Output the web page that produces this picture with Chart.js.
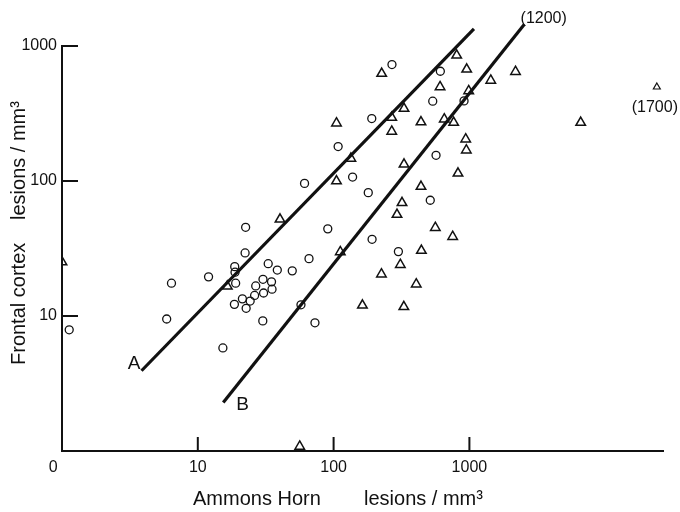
<!DOCTYPE html>
<html>
<head>
<meta charset="utf-8">
<script src="https://cdn.jsdelivr.net/npm/chart.js@4.4.1/dist/chart.umd.min.js"></script>
<style>
  html, body { margin: 0; padding: 0; background: #fff; }
</style>
</head>
<body>
<canvas id="graphCanvas" width="680" height="512"></canvas>
<script>
// open circles
const circleX = [1.13, 5.9, 6.4, 12.0, 15.3, 18.7, 18.8, 19.0, 18.6, 21.3, 22.5, 22.3, 22.7, 24.3, 26.2, 26.7, 30.1, 30.2, 30.5, 33.0, 34.9,
    35.2, 38.5, 49.6, 57.5, 61.1, 65.9, 72.9, 90.6, 108, 138, 180, 191, 192, 269, 300, 515, 537, 568, 611, 913];
const circleY = [7.9, 9.5, 17.5, 19.5, 5.8, 23.2, 21.1, 17.5, 12.2, 13.4, 45.4, 29.3, 11.4, 12.9, 14.2, 16.7, 9.2, 18.7, 14.8, 24.4, 17.9,
    15.8, 21.9, 21.6, 12.1, 96, 26.6, 8.9, 44.2, 180, 107, 82, 290, 37, 729, 30, 72, 390, 155, 650, 392];

// open triangles
const triX = [1, 16.5, 40.3, 56.3, 105, 105, 112, 134, 163, 226, 225, 268, 268, 293, 310, 319, 330, 330, 329, 406, 440,
    440, 443, 561, 608, 653, 753, 766, 806, 824, 939, 949, 955, 988, 1437, 2185, 6600];
const triY = [25.1, 16.6, 52, 1.08, 268, 100, 29.8, 147, 12.0, 625, 20.4, 295, 233, 56.4, 24.0, 69, 344, 133, 11.7, 17.2, 273,
    91, 30.5, 45.1, 497, 287, 38.7, 271, 854, 114, 204, 169, 672, 465, 556, 645, 271];

// off-scale cases, drawn small with their real value in brackets
const outlierX = [2150, 24000];
const outlierY = [1660, 497];
const outlierLabels = ['(1200)', '(1700)'];

// regression lines
const lineAX = [3.85, 1080];
const lineAY = [3.93, 1340];
const lineBX = [15.4, 2540];
const lineBY = [2.29, 1450];

const xTicks = [1, 10, 100, 1000];
const xTickLabels = ['0    ', '10', '100', '1000'];
const yTicks = [10, 100, 1000];
const yTickLabels = ['10', '100', '1000'];

const ink = '#111';
const sans = "'Liberation Sans', Arial, sans-serif";

const pts = (xs, ys) => xs.map((x, i) => ({ x: x, y: ys[i] }));

const decorations = {
    id: 'decorations',
    afterDraw(chart) {
        const ctx = chart.ctx;
        const xs = chart.scales.x;
        const ys = chart.scales.y;
        const area = chart.chartArea;
        ctx.save();
        ctx.strokeStyle = ink;
        ctx.fillStyle = ink;
        ctx.lineWidth = 2;
        // inward tick marks
        yTicks.forEach(v => {
            const py = ys.getPixelForValue(v);
            ctx.beginPath();
            ctx.moveTo(area.left, py);
            ctx.lineTo(area.left + 16, py);
            ctx.stroke();
        });
        xTicks.slice(1).forEach(v => {
            const px = xs.getPixelForValue(v);
            ctx.beginPath();
            ctx.moveTo(px, area.bottom);
            ctx.lineTo(px, area.bottom - 14);
            ctx.stroke();
        });

        // axis titles
        ctx.font = '20px ' + sans;
        ctx.textBaseline = 'alphabetic';
        ctx.textAlign = 'left';
        ctx.fillText('Ammons Horn', 193, 505);
        ctx.fillText('lesions / mm\u00b3', 364, 505);
        ctx.save();
        ctx.translate(25, 365);
        ctx.rotate(-Math.PI / 2);
        ctx.fillText('Frontal cortex', 0, 0);
        ctx.fillText('lesions / mm\u00b3', 145, 0);
        ctx.restore();

        // line labels
        ctx.font = '19px ' + sans;
        ctx.textAlign = 'right';
        ctx.fillText('A', xs.getPixelForValue(lineAX[0]) - 1, ys.getPixelForValue(lineAY[0]) - 2);
        ctx.textAlign = 'left';
        ctx.fillText('B', xs.getPixelForValue(lineBX[0]) + 13, ys.getPixelForValue(lineBY[0]) + 8);

        // outlier labels
        ctx.font = '16px ' + sans;
        ctx.fillText(outlierLabels[0], xs.getPixelForValue(outlierX[0]) + 6, ys.getPixelForValue(outlierY[0]) + 7);
        ctx.textAlign = 'center';
        ctx.fillText(outlierLabels[1], xs.getPixelForValue(outlierX[1]) - 2, ys.getPixelForValue(outlierY[1]) + 25);
        ctx.restore();
    }
};

new Chart(document.getElementById('graphCanvas'), {
    type: 'scatter',
    data: {
        datasets: [{
            label: 'A',
            data: pts(lineAX, lineAY),
            showLine: true,
            borderColor: ink,
            borderWidth: 3.2,
            pointRadius: 0,
            clip: false
        }, {
            label: 'B',
            data: pts(lineBX, lineBY),
            showLine: true,
            borderColor: ink,
            borderWidth: 3.2,
            pointRadius: 0,
            clip: false
        }, {
            label: 'circles',
            data: pts(circleX, circleY),
            pointStyle: 'circle',
            pointRadius: 4,
            borderWidth: 1.3,
            borderColor: ink,
            backgroundColor: 'rgba(0,0,0,0)',
            clip: false
        }, {
            label: 'triangles',
            data: pts(triX, triY),
            pointStyle: 'triangle',
            pointRadius: 5.5,
            borderWidth: 1.5,
            borderColor: ink,
            backgroundColor: 'rgba(0,0,0,0)',
            clip: { left: 0, top: false, right: false, bottom: false }
        }, {
            label: 'outliers',
            data: pts(outlierX, outlierY),
            pointStyle: 'triangle',
            pointRadius: 4,
            borderWidth: 1.2,
            borderColor: ink,
            backgroundColor: 'rgba(0,0,0,0)',
            clip: false
        }]
    },
    options: {
        responsive: false,
        devicePixelRatio: 1,
        animation: false,
        events: [],
        layout: {
            padding: { left: 0, top: 46, right: 16.5, bottom: 0 }
        },
        plugins: {
            legend: { display: false },
            tooltip: { enabled: false }
        },
        scales: {
            x: {
                type: 'logarithmic',
                min: 1,
                max: 26870,
                grid: { display: false, drawTicks: false },
                border: { color: ink, width: 2 },
                afterBuildTicks: s => { s.ticks = xTicks.map(v => ({ value: v })); },
                afterFit: s => { s.height = 61; },
                ticks: {
                    autoSkip: false,
                    maxRotation: 0,
                    padding: 7,
                    color: ink,
                    font: { family: sans, size: 16 },
                    callback: (v, i) => xTickLabels[i]
                }
            },
            y: {
                type: 'logarithmic',
                min: 1,
                max: 1000,
                grid: { display: false, drawTicks: false },
                border: { color: ink, width: 2 },
                afterBuildTicks: s => { s.ticks = yTicks.map(v => ({ value: v })); },
                afterFit: s => { s.width = 62; },
                ticks: {
                    autoSkip: false,
                    padding: 5,
                    color: ink,
                    font: { family: sans, size: 16 },
                    callback: (v, i) => yTickLabels[i]
                }
            }
        }
    },
    plugins: [decorations]
});
</script>
</body>
</html>
